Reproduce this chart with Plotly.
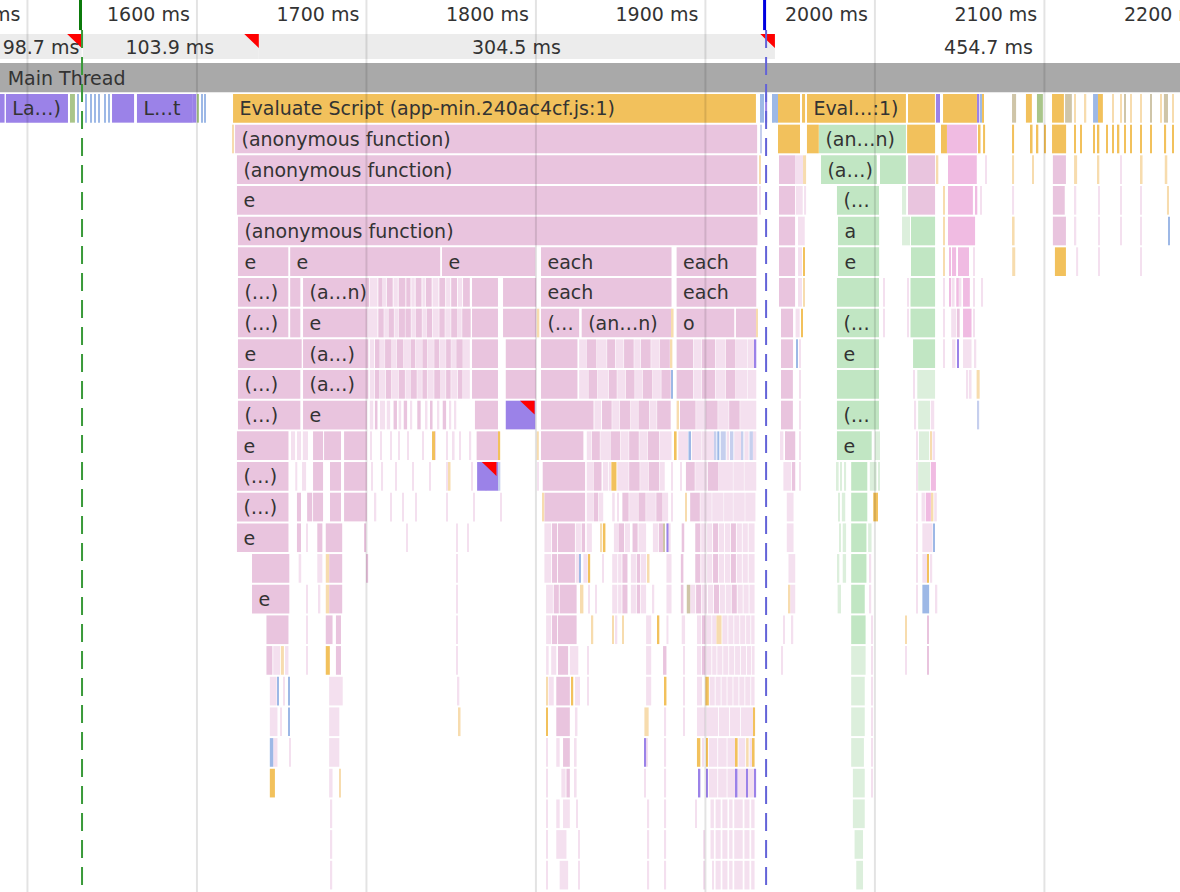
import plotly.graph_objects as go

# ---------- axis / header data (milliseconds) ----------
TICKS_MS = [1500, 1600, 1700, 1800, 1900, 2000, 2100, 2200]
TICK_TEXT = ["1500 ms", "1600 ms", "1700 ms", "1800 ms", "1900 ms", "2000 ms", "2100 ms", "2200 ms"]
TASK_STARTS = [1433.3, 1532.6, 1636.5]
TASK_DURS = [98.7, 103.9, 304.5]
TASK_LABEL_MS = [1508, 1584, 1788.5, 2067]
TASK_LABELS = ["98.7 ms", "103.9 ms", "304.5 ms", "454.7 ms"]
DCL_MS = 1531.3
LOAD_MS = 1934.9
WARN_ROWS = [10, 12]
WARN_ENDS = [1799.2, 1776.7]

# ---------- flame rows: (start ms, duration ms, category) ----------
R00 = [(1470,16.5,"U"),(1487.3,36.6,"U"),(1525.1,2.9,"A"),(1529.8,.6,"C"),(1534,.6,"C"),(1536.9,.6,"C"),(1539.3,.6,"C"),(1542.2,.6,"C"),(1545.2,.6,"C"),(1547.5,1.2,"C"),
       (1549.9,13,"U"),(1564.6,33,"U"),(1597.6,2,"U"),(1600,1.2,"A"),(1602.4,.8,"C"),(1604.2,.8,"C"),(1621.3,308.5,"O"),(1932.2,2.4,"C"),(1935.2,1.2,"U"),(1939.3,.8,"C"),(1941,.8,"C"),(1942.2,.6,"C"),
       (1942.8,13,"O"),(1957,1.8,"O"),(1959.9,58.4,"O"),(2019.5,15.9,"O"),(2036,2.4,"U"),(2040.2,20,"O"),(2060.8,.8,"U"),(2062.4,.8,"C"),(2063.6,.6,"O"),
       (2080.9,2.4,"T"),(2089.1,3.5,"O"),(2095.6,3.5,"A"),(2104.5,7,"O"),(2112.2,4,"T"),(2117.5,.8,"Q"),(2123.9,.8,"Q"),(2128.7,2.9,"C"),(2131.6,2.9,"O"),(2139.9,.8,"Q"),(2144.6,.8,"Q"),(2147,1,"T"),(2150.5,.8,"Q"),(2156.4,.8,"Q"),(2162.3,1.2,"T"),(2168.2,.8,"Q"),(2170.5,2.4,"T"),(2175.3,.8,"Q")]
R01 = [(1620.9,1,"Q"),(1622.5,308,"P"),(1932.2,1.2,"E"),(1942.8,13,"O"),(1959.9,7,"O"),(1967,51.3,"G"),(2019,16.5,"O"),(2039,3.5,"O"),(2042.5,17.7,"B"),(2060.8,1.5,"O"),(2063.8,1.2,"O"),
       (2080.9,1.2,"O"),(2091.5,1.5,"O"),(2095.6,.8,"O"),(2099.8,.8,"O"),(2104.5,8.3,"O"),(2117.5,1,"O"),(2121,.8,"O"),(2128.7,.8,"O"),(2131.6,.8,"O"),(2136.4,.8,"O"),(2139.9,.8,"O"),(2143.4,.8,"O"),(2147,.8,"O"),(2150.5,.8,"O"),(2156.4,.8,"O"),(2162.3,.8,"O"),(2171,.8,"O"),(2175.3,.8,"O")]
R02 = [(1623.6,307,"P"),(1932,.8,"Q"),(1943.4,9.5,"P"),(1952.9,4.7,"L"),(1957.6,1.8,"Q"),(1968.2,33,"G"),(2003,15.3,"G"),(2019.5,16,"P"),(2036.6,.8,"Q"),(2043.1,17,"B"),(2065,.8,"L"),
       (2080.9,1.2,"Q"),(2092.7,1,"Q"),(2105,7.7,"P"),(2117.5,1.8,"Q"),(2131.6,.8,"Q"),(2144.6,.8,"L"),(2156.4,1.5,"Q"),(2171,1.5,"Q")]
R03 = [(1623.6,307,"P"),(1932,.8,"L"),(1943.4,9.5,"P"),(1953.4,4,"L"),(1958.2,1.2,"L"),(1977.6,24.8,"G"),(2016,2.4,"H"),(2019.5,16,"P"),(2040.2,.8,"Q"),(2043.1,14.7,"B"),(2059.6,.8,"B"),(2062,.8,"L"),
       (2080.9,1.2,"L"),(2105,7,"P"),(2118,.8,"L"),(2132,.8,"L"),(2144.6,.8,"L"),(2156.4,.8,"L"),(2172.3,1.2,"Q")]
R04 = [(1624.2,306.5,"P"),(1943.4,9.5,"P"),(1954.6,4,"L"),(1978.2,24.3,"G"),(2016,4.7,"H"),(2021.3,14.2,"G"),(2040.2,.8,"Q"),(2043.1,16,"B"),
       (2080.9,1.5,"Q"),(2105,7.7,"P"),(2118,.8,"L"),(2132,.8,"L"),(2144.6,.8,"L"),(2156.4,.8,"L"),(2173,.8,"C")]
R05 = [(1624.2,29.7,"P"),(1655,88.5,"P"),(1744.6,55,"P"),(1803,77,"P"),(1883,47,"P"),(1943.4,9.5,"P"),(1954.6,2.4,"L"),(1957.6,.8,"O"),(1978.2,24.3,"G"),(2021.3,14.2,"G"),(2040.2,.8,"Q"),(2043.7,1.2,"B"),(2045.5,2.4,"B"),(2049,6.5,"B"),(2057.9,.8,"L"),
       (2081,1.8,"Q"),(2106.2,6.5,"O"),(2118.7,1.2,"L"),(2132,.8,"L"),(2156.4,.8,"L")]
R06 = [(1624.2,29.7,"P"),(1655,6,"P"),(1662.6,39,"P"),(1702,4.5,"L"),(1707,2.5,"P"),(1709.5,2,"L"),(1712,3.5,"P"),(1716,2.5,"L"),(1719,4,"P"),(1723.5,2.5,"P"),(1726.5,2,"L"),(1729,3.5,"P"),(1733,1.5,"L"),(1735,3.5,"P"),(1739,3.5,"L"),(1743,3.5,"P"),(1747,2.5,"L"),(1750,3.5,"P"),(1754,2.5,"L"),(1757,4,"P"),(1762.3,15.3,"P"),(1780.6,19.5,"P"),
       (1803,77,"P"),(1883,47,"P"),(1943.4,9.5,"P"),(1954.6,2.4,"L"),(1957.6,.8,"Q"),(1977.6,24.8,"G"),(2005,.8,"L"),(2019,.8,"L"),(2021,14.5,"G"),(2040.2,.8,"L"),(2044,1,"B"),(2046,1,"L"),(2048,1.5,"B"),(2050,1,"L"),(2052,4,"B"),(2058,1,"L"),(2063,.8,"L")]
R07 = [(1624.2,29.7,"P"),(1655,6,"P"),(1662.6,38,"P"),(1700.5,6,"L"),(1707,3.2,"P"),(1710.5,2.2,"L"),(1713,3.2,"P"),(1716.5,2.2,"L"),(1719,3.7,"P"),(1723,3.2,"P"),(1726.5,2.2,"L"),(1729,3.7,"P"),(1733,2.2,"L"),(1735.5,3.2,"P"),(1739,3.7,"L"),(1743,3.2,"P"),(1746.5,3.2,"L"),(1750,3.7,"P"),(1754,2.2,"L"),(1756.5,5,"P"),(1762.3,15.3,"P"),(1780.6,19.5,"P"),(1800.5,1.5,"Q"),
       (1803,22.5,"P"),(1827,53,"P"),(1880.2,1,"Q"),(1883,34,"P"),(1918,12,"P"),(1930.2,.8,"Q"),(1944.6,7.1,"P"),(1953.2,2.4,"L"),(1956.5,.9,"O"),(1977.6,24.8,"G"),(2005,.8,"L"),(2019,.8,"L"),(2021,14.5,"G"),(2040.2,.8,"L"),(2045,3,"L"),(2049,1,"P"),(2052,5,"B"),(2058,1,"L")]
R08 = [(1624.2,37.6,"P"),(1662.6,38.5,"P"),(1702,2.5,"L"),(1705,2.8,"P"),(1708,2.8,"L"),(1711,3.8,"P"),(1715,2.8,"L"),(1718,3.8,"P"),(1722,3.8,"L"),(1726,2.8,"P"),(1729,3.8,"L"),(1733,2.8,"P"),(1736,3.8,"L"),(1740,2.8,"P"),(1743,3.8,"L"),(1747,2.8,"P"),(1750,2.8,"L"),(1753,3.8,"P"),(1757,4,"L"),(1762.3,15.3,"P"),(1782.2,17.8,"P"),
       (1803,21.5,"P"),(1825.5,4.5,"L"),(1830,5.7,"P"),(1836,5.7,"L"),(1842,4.7,"P"),(1847,4.7,"L"),(1852,5.7,"P"),(1858,3.7,"L"),(1862,5.7,"P"),(1868,4.7,"L"),(1873,6,"P"),(1879.5,1,"Q"),(1883,9.7,"P"),(1893,4.7,"L"),(1898,7.7,"P"),(1906,5.7,"L"),(1912,5.7,"P"),(1918,6.7,"L"),(1925,4,"L"),(1929,1,"U"),
       (1944.6,7.1,"P"),(1953.5,.8,"C"),(1955.5,.8,"L"),(1977.6,24.8,"G"),(2022.5,13,"G"),(2040.2,.8,"L"),(2045.5,2,"L"),(2048.5,.9,"U"),(2052,5,"L"),(2059,.8,"L")]
R09 = [(1624.2,36.8,"P"),(1662.6,38.5,"P"),(1702,2.7,"L"),(1705,2.7,"P"),(1708,3.2,"L"),(1711.5,3.2,"P"),(1715,3.7,"L"),(1719,3.7,"P"),(1723,2.7,"L"),(1726,3.7,"P"),(1730,2.7,"L"),(1733,2.7,"P"),(1736,3.7,"L"),(1740,3.7,"P"),(1744,2.7,"L"),(1747,2.7,"P"),(1750,3.7,"L"),(1754,2.7,"P"),(1757,4,"L"),(1762.3,15.3,"P"),(1782.2,17.8,"P"),
       (1803,21.5,"P"),(1825.5,5.2,"L"),(1831,5.2,"P"),(1836.5,6.2,"L"),(1843,4.7,"P"),(1848,4.7,"L"),(1853,5.2,"P"),(1858.5,4.2,"L"),(1863,5.7,"P"),(1869,4.7,"L"),(1874,5.5,"P"),(1880,.8,"C"),(1883,9.7,"P"),(1893,4.7,"L"),(1898,7.7,"P"),(1906,5.7,"L"),(1912,5.7,"P"),(1918,6.7,"L"),(1925,5,"L"),
       (1944.6,7,"P"),(1955.5,.8,"L"),(1977.6,24.8,"G"),(2022.5,.8,"L"),(2025,10.5,"H"),(2054,1,"L"),(2056,1,"L"),(2060,1.8,"Q")]
R10 = [(1624.2,36.8,"P"),(1662.6,37.7,"P"),(1702,2,"L"),(1705,1.5,"P"),(1708,3,"L"),(1712,2,"L"),(1716,2,"P"),(1719,1.5,"L"),(1722,2,"P"),(1726,1,"L"),(1730,2,"P"),(1735,1,"L"),(1738,1,"P"),(1742,1,"L"),(1745,2,"P"),(1749,1,"L"),(1752,1,"L"),(1764,13.6,"P"),(1782.2,17.4,"U"),
       (1803,31,"P"),(1834.5,4,"L"),(1839,5.7,"P"),(1845,4.2,"L"),(1849.5,6.2,"P"),(1856,4.2,"L"),(1860.5,6.2,"P"),(1867,4.2,"L"),(1871.5,8,"P"),(1883,1.4,"Q"),(1885,9.2,"P"),(1894.5,5.2,"L"),(1900,7.2,"P"),(1907.5,6.2,"L"),(1914,6.2,"P"),(1920.5,9.5,"L"),
       (1944.6,7,"P"),(1955.5,.8,"L"),(1977.6,24.8,"G"),(2023.5,.8,"L"),(2025.5,7,"H"),(2033,2,"L"),(2060.5,1,"E")]
R11 = [(1623.6,30.4,"P"),(1655.5,2.4,"L"),(1659,2.4,"L"),(1662.5,3,"L"),(1668.5,5.9,"P"),(1675,10,"P"),(1686.8,13.5,"P"),(1702.5,.8,"L"),(1708,.8,"L"),(1714,.8,"L"),(1719,.8,"L"),(1724,.8,"L"),(1733,.8,"L"),(1740,.8,"L"),(1747,.8,"L"),(1751,1,"L"),(1738.7,1.8,"O"),(1755,.8,"L"),(1761,.8,"L"),(1765,13,"P"),(1778,.9,"O"),(1800.5,1.2,"Q"),
       (1803,25,"P"),(1830,2.7,"L"),(1833,4.7,"P"),(1838,5.7,"L"),(1844,5.7,"P"),(1850,4.7,"L"),(1855,5.7,"P"),(1861,4.7,"L"),(1866,6.7,"P"),(1873,7,"L"),(1882,1,"O"),(1884,5.7,"L"),(1890,1.5,"C"),(1892,5.7,"L"),(1898,7,"L"),(1905,1.5,"E"),(1907,1.2,"C"),(1909,3,"E"),(1912.5,1.5,"L"),(1914.5,2,"E"),(1917,4,"L"),(1921.5,.9,"E"),(1923,2.5,"L"),(1926,2,"E"),(1928,2,"L"),
       (1944,2,"L"),(1947,1,"P"),(1948,5,"P"),(1955.5,.8,"L"),(1977.6,20.5,"G"),(2000,3,"H"),(2024.5,.8,"L"),(2026,6,"H"),(2032.5,1,"Q"),(2034,1.5,"L")]
R12 = [(1623.6,30.4,"P"),(1658,1.2,"L"),(1662,2.4,"L"),(1668.5,5.9,"P"),(1678.5,6.5,"P"),(1686.8,13.5,"P"),(1703,.8,"L"),(1709,.8,"L"),(1717,.8,"L"),(1727,.8,"L"),(1737,.8,"L"),(1747,.8,"L"),(1748.7,.9,"Q"),(1762,.8,"L"),(1770,.8,"L"),(1765.3,12.5,"U"),(1778,1,"E"),(1801,.8,"L"),
       (1804,25,"P"),(1830,3.7,"L"),(1834,4.7,"P"),(1839.5,3,"L"),(1843,1.2,"L"),(1844.5,3,"O"),(1848,6.7,"L"),(1855,6.2,"P"),(1861.5,4.7,"L"),(1866.5,6.2,"P"),(1873,3,"L"),(1880,.8,"L"),(1885,1,"L"),(1888.5,5.2,"P"),(1894,7.2,"L"),(1901.5,6.2,"P"),(1908,8.2,"L"),(1916.5,6.2,"L"),(1923,7,"L"),
       (1946,4.5,"L"),(1951,2,"P"),(1955.5,.8,"L"),(1977.6,1,"H"),(1979.5,1,"H"),(1982,1,"H"),(1986,9.5,"G"),(1997,4,"H"),(2002,.8,"H"),(2024.5,.8,"L"),(2025.5,7,"H"),(2033,3,"B")]
R13 = [(1623.6,30.4,"P"),(1659,2.4,"P"),(1665,3,"P"),(1668.5,5.9,"P"),(1678.5,6.5,"P"),(1686.8,13.5,"P"),(1705,.8,"L"),(1714,.8,"L"),(1721,.8,"L"),(1729,.8,"L"),(1747,.8,"L"),(1763,.8,"L"),(1779,.8,"L"),(1804,.9,"Q"),
       (1805,24,"P"),(1830,3.7,"L"),(1834,2.7,"P"),(1837,2.7,"L"),(1845,1.5,"L"),(1848,1,"L"),(1851,3.7,"P"),(1855,5.2,"L"),(1860.5,4.2,"P"),(1865,5.7,"L"),(1871,3.7,"P"),(1875,3,"L"),(1880,.8,"L"),(1888,.8,"Q"),(1891,5.7,"P"),(1897,6.7,"L"),(1904,6.7,"L"),(1911,5.2,"L"),(1916.5,6.7,"L"),(1923.5,6,"L"),
       (1948,4,"L"),(1978.5,.8,"H"),(1980.5,2,"H"),(1986,9.5,"G"),(1999,2.8,"O"),(2024.5,.8,"L"),(2027.5,2,"L"),(2030,3,"B"),(2033.5,1,"Q"),(2035,1.5,"L")]
R14 = [(1623.6,30.4,"P"),(1659,2.4,"P"),(1664.5,.8,"L"),(1671,3,"P"),(1676,9.7,"P"),(1699,.8,"P"),(1723.5,.8,"L"),(1753,.8,"L"),(1759.7,.8,"L"),
       (1805,4,"L"),(1809.5,3,"P"),(1813,10,"P"),(1823.5,3,"L"),(1827,2,"P"),(1830,3,"L"),(1838,1,"Q"),(1839.5,1.5,"O"),(1846,3,"L"),(1849,3,"P"),(1852.5,3,"L"),(1857,3,"P"),(1860.5,4.5,"L"),(1869,3,"L"),(1872.5,2.5,"P"),(1875,1,"T"),(1877,1.2,"U"),(1878.5,1,"L"),(1886,1.5,"P"),(1894,3,"P"),(1897.5,3,"L"),(1901,3,"L"),(1904.5,3,"P"),(1908,3,"L"),(1911.5,3,"L"),(1915,3,"P"),(1918.5,3,"L"),(1922,3,"L"),(1925.5,3.5,"L"),
       (1948,4,"L"),(1979,.8,"H"),(1981,2,"H"),(1986,9,"G"),(1996,2,"H"),(2024.5,.8,"L"),(2028,6,"L"),(2034.5,.8,"C")]
R15 = [(1632.5,22,"P"),(1660,1.5,"L"),(1671,3,"L"),(1676,2,"Q"),(1678,7.7,"P"),(1700,1,"P"),(1753,.8,"L"),
       (1805,4,"L"),(1809.5,3,"P"),(1813,10,"P"),(1823.5,2,"L"),(1825.5,.9,"C"),(1828,2.5,"L"),(1831,1,"O"),(1839,1,"L"),(1845,3,"L"),(1848.5,2,"L"),(1851,3,"P"),(1856,3,"L"),(1859.5,2,"P"),(1862,3,"L"),(1866,1,"Q"),(1877,3,"L"),(1885.5,1.5,"P"),(1894,3,"P"),(1897.5,3,"L"),(1901,3,"L"),(1904.5,3,"P"),(1908,3,"L"),(1911.5,3,"L"),(1915,3,"P"),(1918.5,3,"L"),(1922,3,"L"),(1925.5,3.5,"L"),
       (1949,4,"L"),(1978,1,"H"),(1981,2,"H"),(1986,9,"G"),(1997,.8,"L"),(2024.5,.8,"L"),(2033,.8,"L"),(2028,3,"L"),(2031,.8,"O")]
R16 = [(1632.5,22,"P"),(1664.5,.8,"L"),(1672,.8,"L"),(1676,2,"Q"),(1678,7.7,"P"),(1753,.8,"L"),
       (1806,4,"L"),(1810.5,3,"P"),(1814,10,"P"),(1826,2,"Q"),(1831,.8,"L"),(1835,.8,"L"),(1845,3,"L"),(1848.5,2,"L"),(1851,3,"P"),(1856,3,"L"),(1859.5,2,"P"),(1862,3,"L"),(1869,.8,"L"),(1877,3,"L"),(1885.5,1.5,"P"),(1889,2,"T"),(1891,3,"L"),(1894.5,3,"P"),(1898,3,"L"),(1901.5,3,"L"),(1905,3,"P"),(1908.5,3,"L"),(1912,3,"L"),(1915.5,3,"P"),(1919,3,"L"),(1922.5,3,"L"),(1926,3,"L"),
       (1949,1,"Q"),(1950,3,"L"),(1978,2,"H"),(1986,8,"G"),(1997,.8,"L"),(2024.5,.8,"L"),(2028,4,"C"),(2036,.8,"L")]
R17 = [(1641,13,"P"),(1664.5,.8,"L"),(1676,4,"P"),(1682,3,"P"),(1753,.8,"L"),(1806,3,"L"),(1809.5,3,"P"),(1813,11,"P"),(1833,.8,"Q"),(1845,1,"Q"),(1847,1,"L"),(1851,.8,"Q"),(1865,3,"L"),(1872,.8,"O"),(1877,1.2,"L"),(1886,2,"L"),(1895,2.5,"L"),(1898,2,"P"),(1900.5,3,"L"),(1904,2.5,"L"),(1906.5,3,"Q"),(1910,3,"L"),(1913.5,3,"L"),(1917,3,"L"),(1920.5,3,"L"),(1924,2.5,"L"),(1927,2,"L"),
       (1946,.8,"L"),(1951,.8,"L"),(1986,8.5,"G"),(1998,.8,"L"),(2018,.9,"Q"),(2031,.8,"P")]
R18 = [(1641,3.5,"P"),(1645,4,"L"),(1649.5,1.8,"Q"),(1652,2,"L"),(1664.5,.8,"L"),(1676,2.4,"O"),(1682,3,"P"),(1753,.8,"L"),(1806,1.5,"L"),(1809,3,"L"),(1813,6,"P"),(1820,5,"L"),(1830.5,.8,"L"),(1865,3,"L"),(1875,2,"P"),(1887,.8,"L"),(1895,2.5,"L"),(1898,2,"P"),(1900.5,3,"L"),(1904,2.5,"L"),(1907,3,"L"),(1910.5,3,"L"),(1914,3,"L"),(1917.5,3,"L"),(1921,3,"L"),(1924.5,2.5,"L"),(1927.5,1.5,"L"),
       (1945,.8,"L"),(1986,8.5,"H"),(1998,.8,"L"),(2018,.8,"L"),(2031,.8,"P")]
R19 = [(1643,4,"L"),(1647.5,.8,"C"),(1651,.8,"L"),(1654,.9,"C"),(1678,8,"L"),(1754,.8,"L"),(1806,.9,"Q"),(1807.5,3,"L"),(1812,8,"P"),(1821,1,"O"),(1823,3,"L"),(1830.5,.8,"L"),(1865,3,"L"),(1876,1,"O"),(1887,.8,"L"),(1895,3,"L"),(1900,2,"O"),(1902.5,3,"L"),(1906,3,"L"),(1909.5,3,"L"),(1913,3,"L"),(1916.5,3,"L"),(1920,3,"L"),(1923.5,3,"L"),(1927,2,"L"),
       (1986,8,"H"),(1998,.8,"L")]
R20 = [(1643,4.5,"L"),(1649,.8,"L"),(1654,.9,"C"),(1678,6,"L"),(1754.5,1,"Q"),(1806,.8,"O"),(1812,8,"P"),(1823,1.5,"L"),(1864,2.5,"Q"),(1876,.8,"L"),(1887,.8,"L"),(1895,5,"L"),(1900.5,7,"L"),(1908,6,"L"),(1914.5,6,"L"),(1921,7.5,"L"),(1928.5,.8,"O"),
       (1986,8,"H"),(1998,.8,"L")]
R21 = [(1643,2,"C"),(1645,2.5,"L"),(1654.5,.8,"L"),(1678,6,"L"),(1806,.8,"L"),(1812,2,"L"),(1816,4,"P"),(1823,1,"L"),(1864,1,"U"),(1865,.8,"L"),(1876,.8,"L"),(1895,2,"O"),(1898,1,"L"),(1900.5,.9,"O"),(1902,5,"L"),(1907.5,5,"L"),(1913,5,"L"),(1918,1,"O"),(1919.5,4,"L"),(1924,1.5,"Q"),(1926,2,"L"),(1928,1,"O"),
       (1986,7.5,"H"),(1998,.8,"L")]
R22 = [(1643,3,"O"),(1678,2,"L"),(1684,.9,"Q"),(1806,.8,"L"),(1815,2.5,"L"),(1818,2,"P"),(1823,1,"L"),(1864,.8,"L"),(1876,.8,"L"),(1896,1,"U"),(1900.5,.9,"U"),(1902,5,"L"),(1907.5,5,"L"),(1913,5,"L"),(1918,.9,"U"),(1919,5,"L"),(1924,.9,"U"),(1925,4,"L"),(1929,.9,"U"),
       (1987,7,"H"),(1998,.8,"L")]
R23 = [(1679,.8,"L"),(1806,.8,"L"),(1812,2,"L"),(1816,4,"L"),(1824,.8,"L"),(1866,.8,"L"),(1876,.8,"L"),(1894,.8,"L"),(1903,2,"L"),(1906,3,"L"),(1910,3,"L"),(1914,2,"L"),(1917,5,"L"),(1923,3,"L"),(1927,2,"L"),
       (1987,7,"H")]
R24 = [(1679,.8,"L"),(1806,.8,"L"),(1812,6,"L"),(1825,.8,"L"),(1866,.8,"L"),(1876,.8,"L"),(1899,.8,"L"),(1903,2,"L"),(1906,3,"L"),(1910,3,"L"),(1914,2,"L"),(1917,5,"L"),(1923,3,"L"),(1927,2,"L"),
       (1988,5,"H")]
R25 = [(1679,.8,"L"),(1806,.8,"L"),(1814,5,"L"),(1825,.8,"L"),(1866,.8,"L"),(1876,.8,"L"),(1899,.8,"L"),(1904,1,"L"),(1906,3,"L"),(1910,3,"L"),(1914,2,"L"),(1917,5,"L"),(1923,3,"L"),(1927,2,"L"),
       (1989,4,"H")]
FLAME_ROWS = [R00,R01,R02,R03,R04,R05,R06,R07,R08,R09,R10,R11,R12,R13,R14,R15,R16,R17,R18,R19,R20,R21,R22,R23,R24,R25]

LABEL_ROWS = [0,0,0,0, 1,1, 2,2, 3,3, 4,4, 5,5,5,5,5,5, 6,6,6,6, 7,7,7,7,7,7, 8,8,8, 9,9, 10,10,10, 11,11, 12, 13, 14, 16]
LABEL_STARTS = [1487.3,1564.6,1621.3,1959.9, 1622.5,1967, 1623.6,1968.2, 1623.6,1977.6, 1624.2,1978.2,
                1624.2,1655,1744.6,1803,1883,1978.2, 1624.2,1662.6,1803,1883, 1624.2,1662.6,1803,1827,1883,1977.6,
                1624.2,1662.6,1977.6, 1624.2,1662.6, 1624.2,1662.6,1977.6, 1623.6,1977.6, 1623.6,1623.6,1623.6,1632.5]
LABEL_TEXTS = ["La…)","L…t","Evaluate Script (app-min.240ac4cf.js:1)","Eval…:1)","(anonymous function)","(an…n)","(anonymous function)","(a…)","e","(…","(anonymous function)","a",
               "e","e","e","each","each","e","(…)","(a…n)","each","each","(…)","e","(…","(an…n)","o","(…",
               "e","(a…)","e","(…)","(a…)","(…)","e","(…","e","e","(…)","(…)","e","e"]

# ---------- style ----------
COLORS = {"P":"#e9c4de","L":"#f4e0ef","B":"#f0bbe2","O":"#f2c15c","Q":"#f7dcae","G":"#c1e6c3","H":"#dcefdc",
          "U":"#9b82e8","C":"#9db8e6","E":"#c6cfee","A":"#a9c58a","T":"#cfc5a8"}
FONT = "DejaVu Sans"
TEXT = "#333333"
PX_W, PX_H = 1180, 892
X0, X1 = 1483.8, 2180.0
Y_TOP, Y_BOTTOM = -3.531, 25.55
TEXT_DY = 0.07

fig = go.Figure()

# header bars
fig.add_trace(go.Bar(orientation="h", y=[-2.015]*3, base=TASK_STARTS, x=TASK_DURS, width=0.82,
                     marker=dict(color="#ececec", line_width=0), hoverinfo="skip"))
fig.add_trace(go.Bar(orientation="h", y=[-1.0], base=[X0-10], x=[X1-X0+20], width=0.95,
                     marker=dict(color="#a9a9a9", line_width=0), hoverinfo="skip"))

# flame bars, one trace per category
for kind, color in COLORS.items():
    ys, xs, bs = [], [], []
    for r, row in enumerate(FLAME_ROWS):
        for s, d, k in row:
            if k == kind:
                ys.append(r); xs.append(d); bs.append(s)
    fig.add_trace(go.Bar(orientation="h", y=ys, x=xs, base=bs, width=0.935,
                         marker=dict(color=color, line_width=0), hoverinfo="skip"))

# red warning triangles
TW, TH, RW = 8.6, 0.45, 0.465
tx, ty = [], []
for s, d in zip(TASK_STARTS, TASK_DURS):
    e = s + d
    tx += [e - TW, e, e, None]; ty += [-2.42, -2.42, -2.42 + TH, None]
for r, e in zip(WARN_ROWS, WARN_ENDS):
    tx += [e - TW, e, e, None]; ty += [r - RW, r - RW, r - RW + TH, None]
fig.add_trace(go.Scatter(x=tx, y=ty, mode="lines", fill="toself", fillcolor="#ff0000",
                         line=dict(width=0, color="#ff0000"), hoverinfo="skip"))

# grid lines over everything
gx, gy = [], []
for t in TICKS_MS:
    gx += [t, t, None]; gy += [Y_TOP, Y_BOTTOM, None]
fig.add_trace(go.Scatter(x=gx, y=gy, mode="lines", line=dict(color="rgba(0,0,0,0.11)", width=2), hoverinfo="skip"))

# load markers
fig.add_trace(go.Scatter(x=[DCL_MS+0.9, DCL_MS+0.9], y=[-2.55, Y_BOTTOM], mode="lines",
                         line=dict(color="#3a9a3a", width=2, dash="18px,9px"), hoverinfo="skip"))
fig.add_trace(go.Scatter(x=[LOAD_MS+0.9, LOAD_MS+0.9], y=[-2.55, 25.4], mode="lines",
                         line=dict(color="#6363d8", width=2, dash="18px,9px"), hoverinfo="skip"))
fig.add_trace(go.Scatter(x=[DCL_MS, DCL_MS], y=[Y_TOP, -2.55], mode="lines",
                         line=dict(color="#0b7a0b", width=3), hoverinfo="skip"))
fig.add_trace(go.Scatter(x=[LOAD_MS, LOAD_MS], y=[Y_TOP, -2.55], mode="lines",
                         line=dict(color="#0000e0", width=3), hoverinfo="skip"))

# texts
font = dict(family=FONT, size=19, color=TEXT)
fig.add_trace(go.Scatter(x=[t - 4.2 for t in TICKS_MS], y=[-3.11 + 0.1]*len(TICKS_MS), text=TICK_TEXT, mode="text",
                         textposition="middle left", textfont=font, hoverinfo="skip", cliponaxis=True))
fig.add_trace(go.Scatter(x=TASK_LABEL_MS, y=[-2.015 + 0.09]*4, text=TASK_LABELS, mode="text",
                         textposition="middle center", textfont=font, hoverinfo="skip", cliponaxis=True))
fig.add_trace(go.Scatter(x=[X0 + 4.5], y=[-1.0 + TEXT_DY], text=["Main Thread"], mode="text",
                         textposition="middle right", textfont=font, hoverinfo="skip", cliponaxis=True))
fig.add_trace(go.Scatter(x=[s + 3.8 for s in LABEL_STARTS], y=[r + TEXT_DY for r in LABEL_ROWS], text=LABEL_TEXTS, mode="text",
                         textposition="middle right", textfont=font, hoverinfo="skip", cliponaxis=True))

fig.update_layout(
    width=PX_W, height=PX_H, autosize=False, margin=dict(l=0, r=0, t=0, b=0),
    paper_bgcolor="white", plot_bgcolor="white", barmode="overlay", showlegend=False,
    xaxis=dict(range=[X0, X1], visible=False, fixedrange=True),
    yaxis=dict(range=[Y_BOTTOM, Y_TOP], visible=False, fixedrange=True),
)
fig.write_html("out.html", config={"displayModeBar": False},
               post_script="document.documentElement.style.overflow='hidden';document.body.style.margin='0';")
